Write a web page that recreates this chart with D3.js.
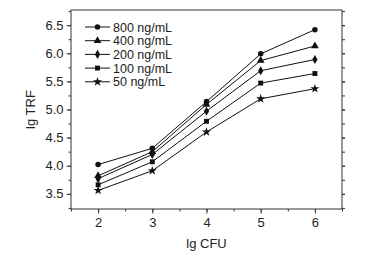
<!DOCTYPE html>
<html>
<head>
<meta charset="utf-8">
<script src="https://cdn.jsdelivr.net/npm/d3@7/dist/d3.min.js"></script>
<style>
  body { margin: 0; background: #fff; }
  text { font-family: Arial, "Liberation Sans", sans-serif; fill: #222; }
</style>
</head>
<body>
<div id="chart"></div>
<script>
// data
const cfu = [2, 3, 4, 5, 6];
const seriesNames = ['800 ng/mL', '400 ng/mL', '200 ng/mL', '100 ng/mL', '50 ng/mL'];
const trf800 = [4.02, 4.31, 5.14, 5.99, 6.42];
const trf400 = [3.82, 4.25, 5.09, 5.87, 6.13];
const trf200 = [3.77, 4.20, 4.97, 5.69, 5.89];
const trf100 = [3.66, 4.07, 4.79, 5.47, 5.64];
const trf50 = [3.56, 3.91, 4.60, 5.19, 5.37];
const xTicks = [2, 3, 4, 5, 6];
const yTicks = [3.5, 4.0, 4.5, 5.0, 5.5, 6.0, 6.5];

const symbols = [d3.symbolCircle, d3.symbolTriangle, d3.symbolDiamond, d3.symbolSquare, d3.symbolStar];
const allSeries = [trf800, trf400, trf200, trf100, trf50];

const width = 381, height = 258;
const margin = { top: 10, right: 39, bottom: 49, left: 71 };

const svg = d3.select('#chart')
  .append('svg')
  .attr('width', width)
  .attr('height', height);

const x = d3.scaleLinear()
  .domain([1.5, 6.5])
  .range([margin.left, width - margin.right]);
const y = d3.scaleLinear()
  .domain([3.23, 6.77])
  .range([height - margin.bottom, margin.top]);

const axisColor = '#333';

// frame
svg.append('rect')
  .attr('x', margin.left)
  .attr('y', margin.top)
  .attr('width', width - margin.left - margin.right)
  .attr('height', height - margin.top - margin.bottom)
  .attr('fill', 'none')
  .attr('stroke', axisColor)
  .attr('stroke-width', 1);

// bottom axis, major + minor
const xMinor = d3.range(1.5, 6.51, 0.5);
svg.append('g')
  .attr('transform', `translate(0,${height - margin.bottom})`)
  .call(d3.axisBottom(x).tickValues(xMinor).tickSize(2.5).tickFormat(''))
  .call(g => g.select('.domain').remove())
  .call(g => g.selectAll('line').attr('stroke', axisColor));
svg.append('g')
  .attr('transform', `translate(0,${height - margin.bottom})`)
  .call(d3.axisBottom(x).tickValues(xTicks).tickSize(4.5).tickPadding(4).tickFormat(d3.format('d')))
  .call(g => g.select('.domain').remove())
  .call(g => g.selectAll('line').attr('stroke', axisColor))
  .call(g => g.selectAll('text').attr('font-size', 13).attr('fill', '#222'));

// left axis
const yMinor = d3.range(3.25, 6.76, 0.25);
svg.append('g')
  .attr('transform', `translate(${margin.left},0)`)
  .call(d3.axisLeft(y).tickValues(yMinor).tickSize(2.5).tickFormat(''))
  .call(g => g.select('.domain').remove())
  .call(g => g.selectAll('line').attr('stroke', axisColor));
svg.append('g')
  .attr('transform', `translate(${margin.left},0)`)
  .call(d3.axisLeft(y).tickValues(yTicks).tickSize(4.5).tickPadding(3).tickFormat(d3.format('.1f')))
  .call(g => g.select('.domain').remove())
  .call(g => g.selectAll('line').attr('stroke', axisColor))
  .call(g => g.selectAll('text').attr('font-size', 13).attr('fill', '#222'));

// right axis, ticks only
svg.append('g')
  .attr('transform', `translate(${width - margin.right},0)`)
  .call(d3.axisRight(y).tickValues(yMinor.concat(yTicks)).tickSize(3).tickFormat(''))
  .call(g => g.select('.domain').remove())
  .call(g => g.selectAll('line').attr('stroke', axisColor));

// axis titles
svg.append('text')
  .attr('x', (margin.left + width - margin.right) / 2)
  .attr('y', 248)
  .attr('text-anchor', 'middle')
  .attr('font-size', 13)
  .text('lg CFU');
svg.append('text')
  .attr('transform', `translate(35,${(margin.top + height - margin.bottom) / 2}) rotate(-90)`)
  .attr('text-anchor', 'middle')
  .attr('font-size', 13)
  .text('lg TRF');

// lines + markers
const line = d3.line()
  .x((d, i) => x(cfu[i]))
  .y(d => y(d));

const sym = (i) => d3.symbol().type(symbols[i]).size(i === 4 ? 26 : (i === 1 ? 26 : 24));

allSeries.forEach((vals, i) => {
  svg.append('path')
    .attr('d', line(vals))
    .attr('fill', 'none')
    .attr('stroke', '#111')
    .attr('stroke-width', 1);
  svg.append('g')
    .selectAll('path')
    .data(vals)
    .join('path')
    .attr('transform', (d, j) => `translate(${x(cfu[j])},${y(d)})`)
    .attr('d', sym(i))
    .attr('fill', '#111');
});

// legend
const legend = svg.append('g')
  .attr('transform', 'translate(85,27)');
seriesNames.forEach((name, i) => {
  const row = legend.append('g')
    .attr('transform', `translate(0,${i * 13.7})`);
  row.append('line')
    .attr('x1', 0).attr('x2', 25)
    .attr('stroke', '#111')
    .attr('stroke-width', 1);
  row.append('path')
    .attr('transform', 'translate(12.5,0)')
    .attr('d', sym(i))
    .attr('fill', '#111');
  row.append('text')
    .attr('x', 28)
    .attr('y', 4.5)
    .attr('font-size', 12.5)
    .text(name);
});
</script>
</body>
</html>
